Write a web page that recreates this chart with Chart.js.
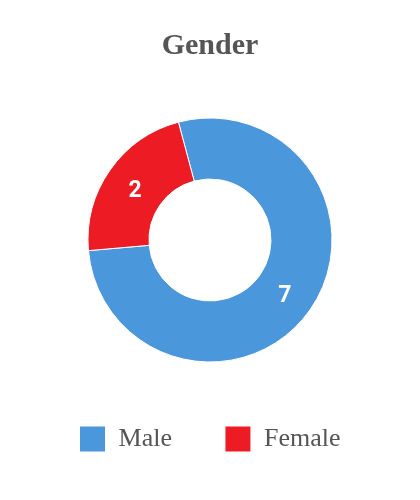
<!DOCTYPE html>
<html>
<head>
<meta charset="utf-8">
<script src="https://cdn.jsdelivr.net/npm/chart.js@4/dist/chart.umd.min.js"></script>
<style>
  html, body { margin: 0; padding: 0; background: #fff; }
  #wrap { width: 420px; height: 500px; }
</style>
</head>
<body>
<div id="wrap"><canvas id="c" width="420" height="500"></canvas></div>
<script>
const categories = ['Male', 'Female'];
const values = [7, 2];
const colors = ['#4A97DC', '#ED1C24'];
const chartTitle = 'Gender';

const valueLabels = {
  id: 'valueLabels',
  afterDatasetsDraw(chart) {
    const ctx = chart.ctx;
    const meta = chart.getDatasetMeta(0);
    ctx.save();
    ctx.fillStyle = '#ffffff';
    ctx.font = 'bold 23px Roboto, "Liberation Sans", Arial, sans-serif';
    ctx.textAlign = 'center';
    ctx.textBaseline = 'middle';
    meta.data.forEach((arc, i) => {
      const p = arc.tooltipPosition();
      ctx.fillText(String(chart.data.datasets[0].data[i]), p.x, p.y + 4);
    });
    ctx.restore();
  }
};

new Chart(document.getElementById('c'), {
  type: 'doughnut',
  data: {
    labels: categories,
    datasets: [{
      data: values,
      backgroundColor: colors,
      borderColor: '#ffffff',
      borderWidth: 1
    }]
  },
  options: {
    responsive: false,
    animation: false,
    rotation: -15,
    radius: 122,
    cutout: '50%',
    layout: { padding: { left: 0, right: 0, top: 0, bottom: 38 } },
    plugins: {
      title: {
        display: true,
        text: chartTitle,
        color: '#555555',
        font: { family: '"Liberation Serif", "Times New Roman", serif', size: 30, weight: 'bold' },
        padding: { top: 28, bottom: 43 }
      },
      legend: {
        display: true,
        position: 'bottom',
        labels: {
          boxWidth: 26,
          boxHeight: 26,
          padding: 53,
          color: '#555555',
          font: { family: '"Liberation Serif", "Times New Roman", serif', size: 26 }
        }
      },
      tooltip: { enabled: false }
    }
  },
  plugins: [valueLabels]
});
</script>
</body>
</html>
